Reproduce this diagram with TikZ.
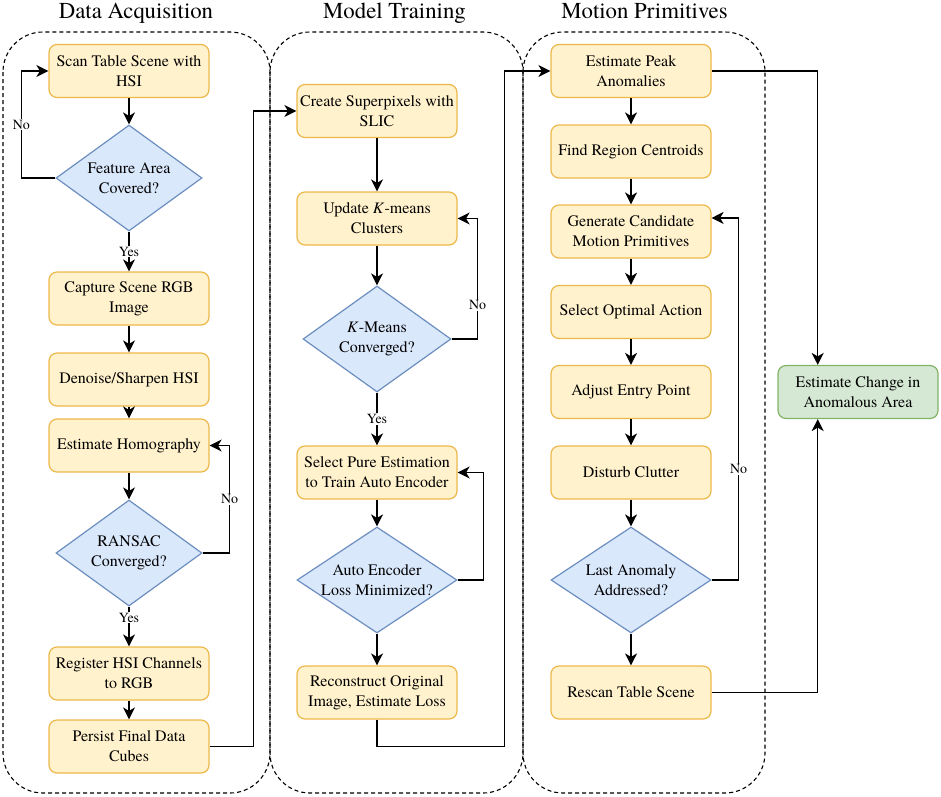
\documentclass[tikz,border=0pt]{standalone}
\usepackage{fontspec}
\setmainfont{texgyretermes}[Extension=.otf, UprightFont=*-regular, ItalicFont=*-italic, BoldFont=*-bold, BoldItalicFont=*-bolditalic]
\usetikzlibrary{arrows.meta,shapes.geometric,calc}
\definecolor{yfill}{HTML}{FFF2CC}
\definecolor{ydraw}{HTML}{EDB84B}
\definecolor{bfill}{HTML}{DAE8FC}
\definecolor{bdraw}{HTML}{6C8EBF}
\definecolor{gfill}{HTML}{D5E8D4}
\definecolor{gdraw}{HTML}{82B366}
\begin{document}
\begin{tikzpicture}[x=1pt,y=-1pt,
  proc/.style={draw=ydraw, fill=yfill, line width=1.2pt, rounded corners=8pt,
    minimum width=160pt, minimum height=53pt, align=center, inner sep=2pt,
    font=\rmfamily\fontsize{16}{20}\selectfont},
  goal/.style={proc, draw=gdraw, fill=gfill},
  dia/.style={draw=bdraw, fill=bfill, line width=1.2pt, diamond, inner sep=0pt,
    minimum width=146pt, minimum height=106pt},
  dtxt/.style={align=center, inner sep=0pt, font=\rmfamily\fontsize{16}{20}\selectfont},
  arr/.style={-{Stealth[length=12pt,width=12pt,inset=3.5pt]}, line width=1.5pt},
  lbl/.style={fill=white, inner sep=1pt, font=\rmfamily\fontsize{14}{16}\selectfont},
  cont/.style={draw, dash pattern=on 4pt off 3pt, line width=1.1pt, rounded corners=40pt},
  ttl/.style={anchor=base, inner sep=0pt, font=\rmfamily\fontsize{22.8}{26}\selectfont}
]
\useasboundingbox (0,0) rectangle (941,796);

% containers
\draw[cont] (3,32) rectangle (270,793);
\draw[cont] (270,32) rectangle (523,793);
\draw[cont] (523,32) rectangle (765,793);

% titles
\node[ttl] (t1) at (136,18) {Data Acquisition};
\node[ttl] (t2) at (394.5,18) {Model Training};
\node[ttl] (t3) at (644.5,18) {Motion Primitives};

% Data acquisition
\node[proc] (a1) at (129,71) {Scan Table Scene with\\HSI};
\node[dia] (ad1) at (129,178) {};
\node[dtxt] (ad1t) at (ad1) {Feature Area\\Covered?};
\node[proc] (a2) at (129,298.5) {Capture Scene RGB\\Image};
\node[proc] (a3) at (129,379.5) {Denoise/Sharpen HSI};
\node[proc] (a4) at (129,445.5) {Estimate Homography};
\node[dia] (ad2) at (129,553) {};
\node[dtxt] (ad2t) at (ad2) {RANSAC\\Converged?};
\node[proc] (a5) at (129,673.5) {Register HSI Channels\\to RGB};
\node[proc] (a6) at (129,746.5) {Persist Final Data\\Cubes};

% Model training
\node[proc] (m1) at (377,111) {Create Superpixels with\\SLIC};
\node[proc] (m2) at (377,218.5) {Update \textit{K}-means\\Clusters};
\node[dia, minimum width=148pt] (md1) at (377,339) {};
\node[dtxt] (md1t) at (md1) {\textit{K}-Means\\Converged?};
\node[proc] (m3) at (377,472.5) {Select Pure Estimation\\to Train Auto Encoder};
\node[dia, minimum width=160pt] (md2) at (377,580) {};
\node[dtxt] (md2t) at (md2) {Auto Encoder\\Loss Minimized?};
\node[proc] (m4) at (377,692.5) {Reconstruct Original\\Image, Estimate Loss};

% Motion primitives
\node[proc] (r1) at (631,71) {Estimate Peak\\Anomalies};
\node[proc] (r2) at (631,151.5) {Find Region Centroids};
\node[proc] (r3) at (631,231.5) {Generate Candidate\\Motion Primitives};
\node[proc] (r4) at (631,312) {Select Optimal Action};
\node[proc] (r5) at (631,392) {Adjust Entry Point};
\node[proc] (r6) at (631,472.5) {Disturb Clutter};
\node[dia, minimum width=160pt] (rd1) at (631,580) {};
\node[dtxt] (rd1t) at (rd1) {Last Anomaly\\Addressed?};
\node[proc] (r7) at (631,692.5) {Rescan Table Scene};

\node[goal] (g1) at (858,392) {Estimate Change in\\Anomalous Area};

% connectors: data acquisition
\draw[arr] (a1) -- (ad1);
\draw[arr] (ad1) -- node[lbl]{Yes} (a2);
\draw[arr] (ad1.west) -- ++(-34,0) |- node[lbl,pos=0.25]{No} (a1.west);
\draw[arr] (a2) -- (a3);
\draw[arr] (a3) -- (a4);
\draw[arr] (a4) -- (ad2);
\draw[arr] (ad2.east) -- ++(27,0) |- node[lbl,pos=0.25]{No} (a4.east);
\draw[arr] (ad2) -- node[lbl,pos=0.28]{Yes} (a5);
\draw[arr] (a5) -- (a6);
\draw[arr] (a6.east) -- ++(44,0) |- (m1.west);

% connectors: model training
\draw[arr] (m1) -- (m2);
\draw[arr] (m2) -- (md1);
\draw[arr] (md1.east) -- ++(26,0) |- node[lbl,pos=0.14]{No} (m2.east);
\draw[arr] (md1) -- node[lbl]{Yes} (m3);
\draw[arr] (m3) -- (md2);
\draw[arr] (md2.east) -- ++(26,0) |- (m3.east);
\draw[arr] (md2) -- (m4);
\draw[arr] (m4.south) -- ++(0,27) -| ($(r1.west)+(-46,0)$) -- (r1.west);

% connectors: motion primitives
\draw[arr] (r1) -- (r2);
\draw[arr] (r2) -- (r3);
\draw[arr] (r3) -- (r4);
\draw[arr] (r4) -- (r5);
\draw[arr] (r5) -- (r6);
\draw[arr] (r6) -- (rd1);
\draw[arr] (rd1) -- (r7);
\draw[arr] (rd1.east) -- ++(27,0) |- node[lbl,pos=0.153]{No} ($(r3.north east)!0.25!(r3.south east)$);
\draw[arr] (r1.east) -| ($(g1.north west)!0.25!(g1.north east)$);
\draw[arr] (r7.east) -| ($(g1.south west)!0.25!(g1.south east)$);
\end{tikzpicture}
\end{document}
